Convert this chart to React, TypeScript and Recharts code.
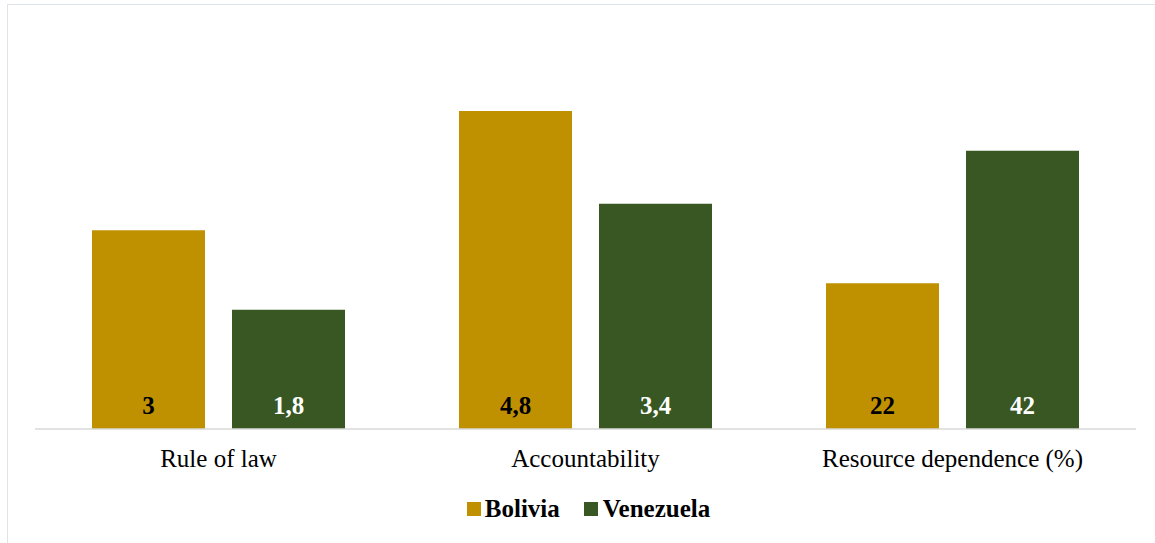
import React from "react";
import { BarChart, Bar, XAxis, YAxis, Legend, LabelList } from "recharts";

const categories = ["Rule of law", "Accountability", "Resource dependence (%)"];
const boliviaHeights = [3, 4.8, 2.2];
const venezuelaHeights = [1.8, 3.4, 4.2];
const boliviaLabels = ["3", "4,8", "22"];
const venezuelaLabels = ["1,8", "3,4", "42"];

const BOL = "#BF9000";
const VEN = "#385723";
const FONT = "'Liberation Serif', 'Times New Roman', serif";

const data = categories.map((c, i) => ({
  name: c,
  bolivia: boliviaHeights[i],
  venezuela: venezuelaHeights[i],
  bolLabel: boliviaLabels[i],
  venLabel: venezuelaLabels[i],
}));

const makeLabel = (color: string) => (props: any) => {
  const { x, y, width, height, value } = props;
  return (
    <text
      x={Number(x) + Number(width) / 2}
      y={Number(y) + Number(height) - 15}
      textAnchor="middle"
      fill={color}
      fontFamily={FONT}
      fontWeight="bold"
      fontSize={25}
    >
      {value}
    </text>
  );
};

const LegendContent = () => (
  <div
    style={{
      display: "flex",
      justifyContent: "center",
      alignItems: "center",
      fontFamily: FONT,
      fontWeight: "bold",
      fontSize: 25,
      color: "#000",
      height: 40,
      paddingLeft: 6,
    }}
  >
    <span style={{ display: "inline-block", width: 14, height: 14, background: BOL, marginRight: 4 }} />
    <span style={{ marginRight: 24 }}>Bolivia</span>
    <span style={{ display: "inline-block", width: 14, height: 14, background: VEN, marginRight: 5 }} />
    <span>Venezuela</span>
  </div>
);

export default function App() {
  return (
    <div
      style={{
        position: "absolute",
        left: 0,
        top: 0,
        width: 1155,
        height: 543,
        background: "#fff",
      }}
    >
      <div
        style={{
          position: "absolute",
          left: 7,
          top: 4,
          width: 1148,
          height: 539,
          borderTop: "1.5px solid #dfe4ea",
          borderLeft: "1.5px solid #dfe4ea",
        }}
      />
      <BarChart
        width={1155}
        height={543}
        data={data}
        margin={{ top: 31.5, right: 19, bottom: 14, left: 35 }}
        barCategoryGap={57}
        barGap={27}
      >
        <XAxis
          dataKey="name"
          axisLine={{ stroke: "#d9d9d9", strokeWidth: 1.5 }}
          tickLine={false}
          tickMargin={14}
          height={60}
          tick={{ fill: "#000", fontFamily: FONT, fontSize: 25 }}
          interval={0}
        />
        <YAxis hide domain={[0, 6]} />
        <Legend verticalAlign="bottom" height={40} content={<LegendContent />} />
        <Bar dataKey="bolivia" fill={BOL} isAnimationActive={false}>
          <LabelList dataKey="bolLabel" content={makeLabel("#000")} />
        </Bar>
        <Bar dataKey="venezuela" fill={VEN} isAnimationActive={false}>
          <LabelList dataKey="venLabel" content={makeLabel("#fff")} />
        </Bar>
      </BarChart>
    </div>
  );
}
